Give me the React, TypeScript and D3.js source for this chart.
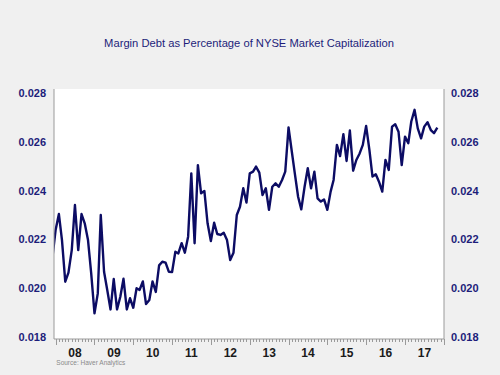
import React from "react";
import * as d3 from "d3";

const TITLE = "Margin Debt as Percentage of NYSE Market Capitalization";
const SOURCE = "Source: Haver Analytics";
const START_MONTH = "2007-12";
const VALUES = [
  0.02122, 0.02238, 0.02304, 0.02197, 0.02026, 0.02063, 0.02156, 0.02341, 0.02156, 0.02304,
  0.02266, 0.02197, 0.0206, 0.01896, 0.01978, 0.023, 0.02067, 0.01992, 0.01912, 0.02037,
  0.01912, 0.01964, 0.02038, 0.01912, 0.01958, 0.01919, 0.01999, 0.01992, 0.02027, 0.01934,
  0.01951, 0.02027, 0.01984, 0.02093, 0.02108, 0.02104, 0.02067, 0.02066, 0.02149, 0.02142,
  0.02184, 0.02145, 0.02211, 0.02471, 0.02184, 0.02505, 0.02389, 0.02399, 0.02266, 0.02193,
  0.02268, 0.02222, 0.02218, 0.02227, 0.02197, 0.02115, 0.02145, 0.023, 0.02334, 0.0241,
  0.02351, 0.02471,
  0.02478, 0.02499, 0.02474, 0.02382, 0.0241, 0.02321, 0.02416, 0.0243, 0.02416, 0.02444,
  0.02478, 0.0266, 0.0256, 0.02471, 0.02375, 0.02323, 0.02416, 0.02492, 0.0241, 0.02478,
  0.02368, 0.02355, 0.02364, 0.02321, 0.02396, 0.02444, 0.02588, 0.02542, 0.02632, 0.02522,
  0.02647, 0.02482, 0.02526, 0.02553, 0.02588, 0.02666, 0.02567, 0.02458, 0.02467, 0.02437,
  0.02396, 0.02526, 0.02485, 0.02663, 0.02673, 0.02642, 0.02505, 0.02622, 0.02595, 0.02684,
  0.02732, 0.02656, 0.02615, 0.02663, 0.02681, 0.02649, 0.02636, 0.02659,
];
const Y_TICKS = [0.018, 0.02, 0.022, 0.024, 0.026, 0.028];
const YEAR_LABELS = ["08", "09", "10", "11", "12", "13", "14", "15", "16", "17"];

const W = 500;
const H = 375;
const PLOT = { left: 54, right: 444, top: 89, bottom: 339 };
const NAVY = "#1d1d7a";
const LINE = "#0c0c64";
const AXIS = "#9a9a9a";

export default function App() {
  const parse = d3.timeParse("%Y-%m");
  const start = parse(START_MONTH) as Date;
  const data = VALUES.map((v, i) => ({ date: d3.timeMonth.offset(start, i), v }));

  const x = d3
    .scaleTime()
    .domain([new Date(2008, 0, 1), new Date(2018, 0, 1)])
    .range([55.6, 443.8]);
  const y = d3.scaleLinear().domain([0.018, 0.028]).range([336.7, 93.3]);

  const line = d3
    .line<{ date: Date; v: number }>()
    .x((d) => x(d.date))
    .y((d) => y(d.v));

  const months = d3.timeMonth.range(new Date(2008, 0, 1), new Date(2018, 0, 2));
  const years = d3.timeYear.range(new Date(2008, 0, 1), new Date(2018, 0, 1));
  const fmt = d3.format(".3f");

  return (
    <div style={{ position: "fixed", left: 0, top: 0 }}>
      <svg width={W} height={H} style={{ display: "block" }} fontFamily="Liberation Sans, Arial, sans-serif">
        <rect x={0} y={0} width={W} height={H} fill="#f0f0f0" />
        <rect
          x={PLOT.left}
          y={PLOT.top}
          width={PLOT.right - PLOT.left}
          height={PLOT.bottom - PLOT.top}
          fill="#ffffff"
        />
        <text x={249} y={47} textAnchor="middle" fontSize={11.2} fill={NAVY}>
          {TITLE}
        </text>
        <defs>
          <clipPath id="plotclip">
            <rect x={PLOT.left} y={PLOT.top} width={PLOT.right - PLOT.left} height={PLOT.bottom - PLOT.top} />
          </clipPath>
        </defs>
        <path
          d={line(data) || ""}
          fill="none"
          stroke={LINE}
          strokeWidth={2.4}
          strokeLinejoin="round"
          clipPath="url(#plotclip)"
        />
        <line x1={PLOT.left} x2={PLOT.left} y1={PLOT.top} y2={PLOT.bottom} stroke={AXIS} strokeWidth={1} />
        <line x1={PLOT.right} x2={PLOT.right} y1={PLOT.top} y2={PLOT.bottom} stroke={AXIS} strokeWidth={1} />
        <line x1={PLOT.left} x2={PLOT.right} y1={PLOT.bottom} y2={PLOT.bottom} stroke={AXIS} strokeWidth={1} />
        {months.map((m, i) => {
          const major = m.getMonth() === 0;
          const xx = Math.round(x(m)) + 0.5;
          return (
            <line
              key={i}
              x1={xx}
              x2={xx}
              y1={PLOT.bottom}
              y2={PLOT.bottom + (major ? 6 : 3)}
              stroke={AXIS}
              strokeWidth={1}
            />
          );
        })}
        {years.map((yr, i) => {
          const mid = (x(yr) + x(d3.timeYear.offset(yr, 1))) / 2;
          return (
            <text key={i} x={mid} y={357} textAnchor="middle" fontSize={12} fontWeight="bold" fill="#1a1a1a">
              {YEAR_LABELS[i]}
            </text>
          );
        })}
        {Y_TICKS.map((t, i) => (
          <g key={i}>
            <text x={46} y={y(t) + 4} textAnchor="end" fontSize={11} fontWeight="bold" fill={NAVY}>
              {fmt(t)}
            </text>
            <text x={451} y={y(t) + 4} textAnchor="start" fontSize={11} fontWeight="bold" fill={NAVY}>
              {fmt(t)}
            </text>
          </g>
        ))}
        <text x={56.3} y={364.5} fontSize={6.5} fill="#8a8a8a">
          {SOURCE}
        </text>
      </svg>
    </div>
  );
}
